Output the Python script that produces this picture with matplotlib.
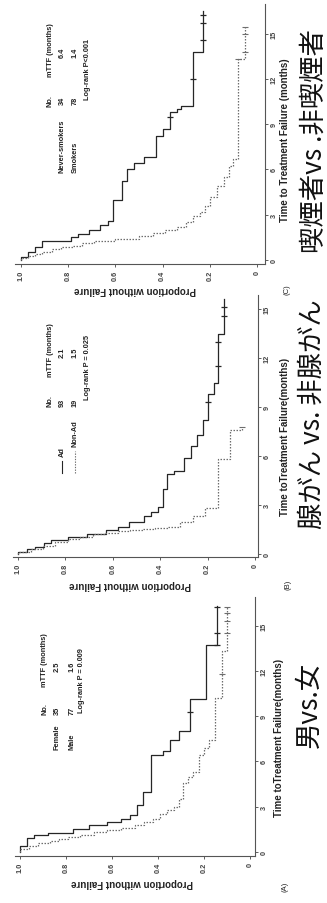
import matplotlib
matplotlib.use("Agg")
import matplotlib.pyplot as plt
from matplotlib.lines import Line2D

W, H = 327, 904

# ---- (A) Female vs Male ----
female_t = [0, 0.4, 0.9, 1.1, 1.25, 1.5, 1.8, 2.0, 2.2, 2.45, 3.1, 3.95, 6.4, 6.7, 7.4, 8.0, 10.1, 13.7, 16.3]
female_s = [1.0, 0.97, 0.94, 0.88, 0.77, 0.70, 0.62, 0.56, 0.52, 0.49, 0.465, 0.43, 0.38, 0.35, 0.31, 0.26, 0.19, 0.145, 0.145]
female_cens_t = [9.3, 13.7, 14.5, 16.2]
female_cens_s = [0.26, 0.145, 0.145, 0.145]

male_t = [0, 0.2, 0.4, 0.6, 0.7, 0.85, 1.0, 1.15, 1.3, 1.45, 1.6, 1.8, 2.0, 2.2, 2.5, 2.8, 3.0, 3.5,
          4.6, 5.0, 5.3, 6.4, 6.9, 7.4, 10.2, 13.3, 16.3]
male_s = [1.0, 0.96, 0.92, 0.87, 0.83, 0.79, 0.74, 0.68, 0.62, 0.56, 0.50, 0.46, 0.42, 0.39, 0.36, 0.33, 0.31, 0.29,
          0.27, 0.25, 0.22, 0.20, 0.18, 0.15, 0.12, 0.10, 0.10]
male_cens_t = [11.8, 14.5, 15.3, 15.8, 16.2]
male_cens_s = [0.12, 0.10, 0.10, 0.10, 0.10]

# ---- (B) Ad vs Non-Ad ----
ad_t = [0, 0.15, 0.3, 0.45, 0.65, 0.85, 1.04, 1.25, 1.45, 1.65, 1.96, 2.3, 2.6, 2.9, 4.0, 4.9, 5.1, 5.9,
        6.6, 7.3, 8.2, 9.8, 10.5, 13.5, 15.6]
ad_s = [1.0, 0.96, 0.93, 0.89, 0.86, 0.79, 0.71, 0.63, 0.58, 0.53, 0.47, 0.44, 0.41, 0.39, 0.37, 0.34, 0.30, 0.27,
        0.245, 0.22, 0.20, 0.175, 0.155, 0.13, 0.13]
ad_cens_t = [9.3, 11.5, 13.0, 14.6, 15.1]
ad_cens_s = [0.20, 0.155, 0.155, 0.13, 0.13]

nonad_t = [0, 0.15, 0.3, 0.5, 0.75, 0.9, 1.05, 1.2, 1.3, 1.4, 1.5, 1.55, 1.62, 1.68, 1.95, 2.3, 2.8, 5.8, 7.6, 7.8]
nonad_s = [1.0, 0.947, 0.895, 0.842, 0.789, 0.737, 0.684, 0.632, 0.579, 0.526, 0.474, 0.421, 0.368, 0.316,
           0.263, 0.211, 0.158, 0.105, 0.053, 0.053]
nonad_cens_t = [7.8]
nonad_cens_s = [0.053]

# ---- (C) Never-smokers vs Smokers ----
never_t = [0, 0.2, 0.5, 0.85, 1.28, 1.5, 1.75, 2.0, 2.3, 2.6, 4.0, 5.2, 6.0, 6.4, 6.8, 8.2, 8.7, 9.8, 10.0,
           10.2, 13.8, 16.5]
never_s = [1.0, 0.97, 0.94, 0.91, 0.79, 0.76, 0.71, 0.665, 0.63, 0.61, 0.57, 0.55, 0.52, 0.48, 0.43, 0.40, 0.37,
           0.34, 0.32, 0.27, 0.23, 0.23]
never_cens_t = [9.5, 12.0, 14.6, 15.7, 16.2]
never_cens_s = [0.37, 0.27, 0.23, 0.23, 0.23]

smoker_t = [0, 0.1, 0.25, 0.4, 0.55, 0.7, 0.85, 0.95, 1.1, 1.25, 1.4, 1.6, 1.8, 2.0, 2.2, 2.5, 2.9, 3.2, 3.6,
            4.2, 4.9, 5.5, 6.2, 6.7, 13.3, 15.4]
smoker_s = [1.0, 0.97, 0.94, 0.91, 0.87, 0.83, 0.78, 0.74, 0.69, 0.60, 0.50, 0.44, 0.39, 0.34, 0.30, 0.27, 0.24,
            0.22, 0.20, 0.17, 0.14, 0.12, 0.10, 0.08, 0.05, 0.05]
smoker_cens_t = [13.3, 13.8, 15.0, 15.4]
smoker_cens_s = [0.08, 0.05, 0.05, 0.05]

time_ticks = [0, 3, 6, 9, 12, 15]
prop_ticks = [0, 0.2, 0.4, 0.6, 0.8, 1.0]
prop_labels = ["0", "0.2", "0.4", "0.6", "0.8", "1.0"]

LAT = "Liberation Sans"
CJK = ["Noto Sans CJK JP", "DejaVu Sans"]
SOLID = "#262626"
DOT = "#6e6e6e"

fig = plt.figure(figsize=(W / 100, H / 100), dpi=100)


def fy(y):
    return 1 - y / H


def txt(x, y, s, size=5.3, rot=90, ha="center", va="bottom", **kw):
    fig.text(x / W, fy(y), s, rotation=rot, ha=ha, va=va, fontsize=size,
             family=kw.pop("family", LAT), fontweight=kw.pop("weight", "bold"),
             color=kw.pop("color", "#222222"), **kw)


def panel(left, right, top, bottom, x1, x0, t0, ppm):
    # box in pixels; x1/x0 = pixel of proportion 1 / 0; t0 = pixel of month 0
    ax = fig.add_axes([left / W, fy(bottom), (right - left) / W, (bottom - top) / H])
    ax.set_xlim((x0 - left) / (x0 - x1), (x0 - right) / (x0 - x1))
    ax.set_ylim((t0 - bottom) / ppm, (t0 - top) / ppm)
    ax.patch.set_alpha(0)
    for s in ["left", "top"]:
        ax.spines[s].set_visible(False)
    for s in ["right", "bottom"]:
        ax.spines[s].set_color("#555555")
        ax.spines[s].set_linewidth(0.8)
    ax.yaxis.tick_right()
    ax.set_yticks(time_ticks)
    ax.set_yticklabels([str(v) for v in time_ticks], rotation=90, va="center",
                       fontsize=5.3, family=LAT, fontweight="bold")
    ax.set_xticks(prop_ticks)
    ax.set_xticklabels(prop_labels, rotation=90, ha="center", va="top",
                       fontsize=5.3, family=LAT, fontweight="bold")
    ax.tick_params(length=2.5, width=0.6, pad=1.5, colors="#444444")
    return ax


def curves(ax, t1, s1, ct1, cs1, t2, s2, ct2, cs2):
    ax.plot(s1, t1, drawstyle="steps-pre", color=SOLID, lw=0.9)
    ax.plot(cs1, ct1, ls="none", marker="_", ms=5, mew=0.9, color=SOLID)
    ax.plot(s2, t2, drawstyle="steps-pre", color=DOT, lw=0.9, ls=(0, (1.2, 1.2)))
    ax.plot(cs2, ct2, ls="none", marker="_", ms=4.5, mew=0.8, color=DOT)


# (C) top
axc = panel(15, 265, 5, 265, 21, 257, 261, 15.1)
curves(axc, never_t, never_s, never_cens_t, never_cens_s,
       smoker_t, smoker_s, smoker_cens_t, smoker_cens_s)
# (B) middle
axb = panel(13, 258, 296, 558, 18, 255, 555, 16.33)
curves(axb, ad_t, ad_s, ad_cens_t, ad_cens_s,
       nonad_t, nonad_s, nonad_cens_t, nonad_cens_s)
# (A) bottom
axa = panel(15, 255, 598, 857, 20, 250, 853, 15.1)
curves(axa, female_t, female_s, female_cens_t, female_cens_s,
       male_t, male_s, male_cens_t, male_cens_s)

# axis labels
for x, y, s in [(285, 140, "Time to Treatment Failure (months)"),
                (285, 437, "Time toTreatment Failure(months)"),
                (279, 738, "Time toTreatment Failure(months)")]:
    txt(x, y, s, size=7, va="center")
for x, y in [(135, 290), (130, 585), (132, 883)]:
    txt(x, y, "Proportion without Failure", size=7, rot=180, va="center")
for x, y, s in [(287, 290, "(C)"), (288, 585, "(B)"), (285, 887, "(A)")]:
    txt(x, y, s, size=5.5, va="center", weight="normal")

# legends (C)
txt(50, 107, "No.", ha="center")
txt(50, 77, "mTTF (months)")
txt(62, 173, "Never-smokers")
txt(75, 173, "Smokers")
txt(62, 105, "34")
txt(75, 105, "78")
txt(62, 58, "6.4")
txt(75, 58, "1.4")
txt(88, 100, "Log-rank P<0.001")

# legends (B)
txt(50, 407, "No.")
txt(50, 377, "mTTF (months)")
txt(62, 457, "Ad")
txt(75, 447, "Non-Ad")
txt(62, 407, "93")
txt(75, 407, "19")
txt(62, 358, "2.1")
txt(75, 358, "1.5")
txt(88, 400, "Log-rank P = 0.025")
fig.add_artist(Line2D([62 / W, 62 / W], [fy(474), fy(462)], color=SOLID, lw=0.8))
fig.add_artist(Line2D([75 / W, 75 / W], [fy(474), fy(452)], color=DOT, lw=0.8, ls=(0, (1.2, 1.2))))

# legends (A)
txt(45, 715, "No.")
txt(45, 687, "mTTF (months)")
txt(57, 750, "Female")
txt(72, 750, "Male")
txt(57, 715, "35")
txt(72, 715, "77")
txt(57, 672, "2.5")
txt(72, 672, "1.6")
txt(82, 713, "Log-rank P = 0.009")

# titles
txt(314, 141, "喫煙者vs .非喫煙者", size=19, va="center", family=CJK, weight="normal", color="#111111")
txt(312, 414, "腺がん vs. 非腺がん", size=19, va="center", family=CJK, weight="normal", color="#111111")
txt(309, 705, "男vs.女", size=19, va="center", family=CJK, weight="normal", color="#111111")

fig.savefig("out.png", dpi=100)
